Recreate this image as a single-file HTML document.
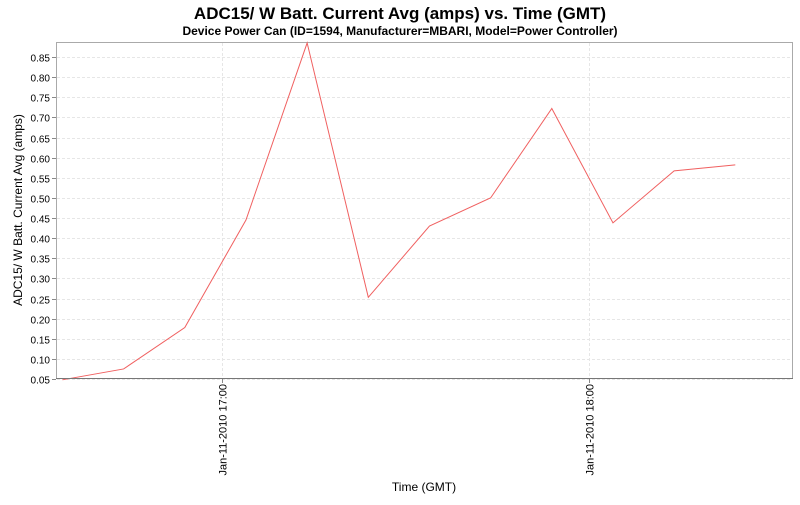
<!DOCTYPE html>
<html><head><meta charset="utf-8"><style>
body{margin:0;background:#fff;font-family:"Liberation Sans","DejaVu Sans",sans-serif}
</style></head><body>
<svg id="chart" width="800" height="500" xmlns="http://www.w3.org/2000/svg" font-family="Liberation Sans, DejaVu Sans, sans-serif">
<text x="400" y="19" text-anchor="middle" font-size="17" font-weight="bold">ADC15/ W Batt. Current Avg (amps) vs. Time (GMT)</text>
<text x="400" y="35" text-anchor="middle" font-size="12" font-weight="bold">Device Power Can (ID=1594, Manufacturer=MBARI, Model=Power Controller)</text>
<g id="grid"></g>
<rect x="56.5" y="42.5" width="736" height="336" fill="none" stroke="#aaa"/>
<g id="yticks"></g><g id="xticks"></g>
<polyline id="series" fill="none" stroke="#f06060" stroke-width="1"/>
<line x1="56" y1="378.5" x2="793" y2="378.5" stroke="#777"/>
<text transform="translate(22,210) rotate(-90)" text-anchor="middle" font-size="12">ADC15/ W Batt. Current Avg (amps)</text>
<text x="424" y="491" text-anchor="middle" font-size="12">Time (GMT)</text>
</svg>
<script>
const timesMin = [-26,-16,-6,4,14,24,34,44,54,64,74,84];
const values = [0.048,0.075,0.178,0.445,0.885,0.253,0.430,0.500,0.722,0.438,0.567,0.582];
const yTicks = [0.05,0.10,0.15,0.20,0.25,0.30,0.35,0.40,0.45,0.50,0.55,0.60,0.65,0.70,0.75,0.80,0.85];
const xTickMin = [0,60];
const xTickLabels = ["Jan-11-2010 17:00","Jan-11-2010 18:00"];
const NS="http://www.w3.org/2000/svg";
const yScale=v=>379-(v-0.05)/0.05*20.125;
const xScale=m=>221.5+m*367/60;
function mk(tag,attrs,parent){const e=document.createElementNS(NS,tag);for(const k in attrs)e.setAttribute(k,attrs[k]);document.getElementById(parent).appendChild(e);return e;}
yTicks.forEach(v=>{const y=Math.round(yScale(v))+0.5;
 const g=mk('line',{x1:57,x2:792,y1:y,y2:y,stroke:'#e6e6e6','stroke-dasharray':'3,2'},'grid');
 
 
 const t=mk('line',{x1:52,x2:56,y1:y,y2:y,stroke:'#888'},'yticks');
 
 
 const l=mk('text',{x:50,y:y+4,'text-anchor':'end','font-size':'10'},'yticks');l.textContent=v.toFixed(2);
 
 
});
xTickMin.forEach((m,i)=>{const x=Math.round(xScale(m))+0.5;
 const g=mk('line',{x1:x,x2:x,y1:43,y2:378,stroke:'#e6e6e6','stroke-dasharray':'3,2'},'grid');
 
 
 const t=mk('line',{x1:x,x2:x,y1:379,y2:383,stroke:'#888'},'xticks');
 
 
 const l=mk('text',{transform:`translate(${x+4},384) rotate(-90)`,'text-anchor':'end','font-size':'11'},'xticks');l.textContent=xTickLabels[i];
 
 
});
document.getElementById('series').setAttribute('points',timesMin.map((m,i)=>xScale(m)+','+yScale(values[i])).join(' '));
</script>
</body></html>
